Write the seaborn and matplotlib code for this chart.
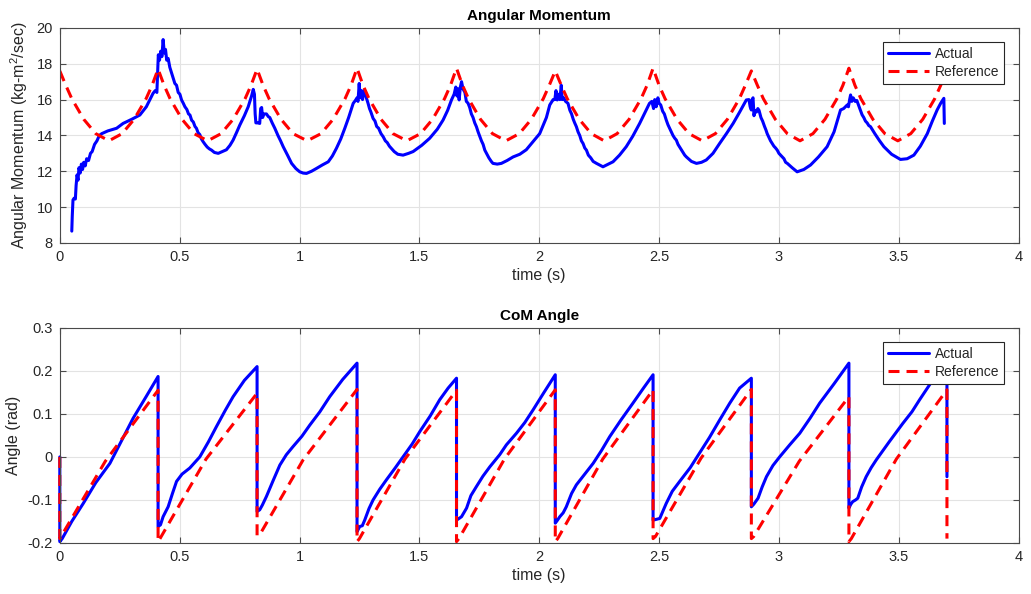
import numpy as np
import pandas as pd
import matplotlib
matplotlib.use("Agg")
import matplotlib.pyplot as plt
import seaborn as sns

# ---------------- data ----------------
# Angular momentum, reference (dashed red)
h_ref_t = [0.000, 0.025, 0.050, 0.100, 0.150, 0.205, 0.260, 0.310, 0.360, 0.385, 0.410,
           0.435, 0.460, 0.510, 0.560, 0.617, 0.673, 0.723, 0.773, 0.798, 0.823,
           0.848, 0.873, 0.923, 0.973, 1.032, 1.090, 1.140, 1.190, 1.215, 1.240,
           1.265, 1.290, 1.340, 1.390, 1.448, 1.505, 1.555, 1.605, 1.630, 1.655,
           1.680, 1.705, 1.755, 1.805, 1.861, 1.917, 1.967, 2.017, 2.042, 2.067,
           2.092, 2.117, 2.167, 2.217, 2.271, 2.325, 2.375, 2.425, 2.450, 2.475,
           2.500, 2.525, 2.575, 2.625, 2.680, 2.735, 2.785, 2.835, 2.860, 2.885,
           2.910, 2.935, 2.985, 3.035, 3.088, 3.142, 3.192, 3.242, 3.267, 3.292,
           3.317, 3.342, 3.392, 3.442, 3.496, 3.550, 3.600, 3.650, 3.675, 3.700]
h_ref_v = [17.6, 16.8, 16.05, 14.9, 14.1, 13.7, 14.1, 14.9, 16.05, 16.8, 17.7,
           16.8, 16.05, 14.9, 14.1, 13.7, 14.1, 14.9, 16.05, 16.8, 17.7,
           16.8, 16.05, 14.9, 14.1, 13.7, 14.1, 14.9, 16.05, 16.8, 17.75,
           16.8, 16.05, 14.9, 14.1, 13.7, 14.1, 14.9, 16.05, 16.8, 17.75,
           16.8, 16.05, 14.9, 14.1, 13.7, 14.1, 14.9, 16.05, 16.8, 17.6,
           16.8, 16.05, 14.9, 14.1, 13.7, 14.1, 14.9, 16.05, 16.8, 17.75,
           16.8, 16.05, 14.9, 14.1, 13.7, 14.1, 14.9, 16.05, 16.8, 17.6,
           16.8, 16.05, 14.9, 14.1, 13.7, 14.1, 14.9, 16.05, 16.8, 17.75,
           16.8, 16.05, 14.9, 14.1, 13.7, 14.1, 14.9, 16.05, 16.8, 17.6]

# Angular momentum, actual (solid blue)
h_act_t = [0.050, 0.052, 0.055, 0.060, 0.065, 0.068, 0.072, 0.076, 0.080, 0.085, 0.090, 0.095,
           0.100, 0.106, 0.112, 0.120, 0.128, 0.135, 0.145, 0.155, 0.165, 0.175, 0.200, 0.237,
           0.264, 0.300, 0.334, 0.361, 0.389, 0.398, 0.405, 0.408, 0.411, 0.416, 0.421, 0.426,
           0.431, 0.436, 0.441, 0.446, 0.452, 0.459, 0.466, 0.473, 0.480, 0.487, 0.494, 0.501,
           0.508, 0.515, 0.522, 0.530, 0.537, 0.543, 0.550, 0.557, 0.564, 0.570, 0.577, 0.584,
           0.591, 0.598, 0.606, 0.615, 0.624, 0.633, 0.645, 0.661, 0.678, 0.695, 0.710, 0.723,
           0.737, 0.751, 0.770, 0.786, 0.800, 0.807, 0.812, 0.815, 0.818, 0.826, 0.834, 0.838,
           0.842, 0.846, 0.852, 0.862, 0.870, 0.876, 0.886, 0.897, 0.910, 0.921, 0.932, 0.950,
           0.967, 0.985, 1.001, 1.015, 1.029, 1.050, 1.071, 1.095, 1.120, 1.137, 1.154, 1.172,
           1.189, 1.205, 1.224, 1.233, 1.240, 1.244, 1.249, 1.253, 1.258, 1.263, 1.268, 1.272,
           1.279, 1.286, 1.292, 1.298, 1.307, 1.315, 1.322, 1.330, 1.340, 1.349, 1.358, 1.366,
           1.375, 1.383, 1.395, 1.410, 1.432, 1.455, 1.474, 1.510, 1.543, 1.575, 1.599, 1.618,
           1.634, 1.645, 1.652, 1.657, 1.662, 1.666, 1.671, 1.676, 1.682, 1.690, 1.696, 1.703,
           1.710, 1.717, 1.724, 1.731, 1.738, 1.745, 1.752, 1.759, 1.766, 1.773, 1.780, 1.790,
           1.800, 1.807, 1.825, 1.842, 1.866, 1.891, 1.919, 1.946, 2.002, 2.030, 2.044, 2.058,
           2.065, 2.070, 2.075, 2.080, 2.086, 2.092, 2.096, 2.102, 2.110, 2.120, 2.128, 2.135,
           2.142, 2.148, 2.155, 2.162, 2.169, 2.176, 2.183, 2.190, 2.197, 2.205, 2.215, 2.225,
           2.239, 2.266, 2.308, 2.335, 2.363, 2.390, 2.419, 2.440, 2.460, 2.470, 2.477, 2.482,
           2.488, 2.495, 2.500, 2.507, 2.515, 2.522, 2.530, 2.537, 2.544, 2.551, 2.558, 2.565,
           2.572, 2.579, 2.586, 2.593, 2.600, 2.607, 2.614, 2.635, 2.656, 2.677, 2.697, 2.725,
           2.753, 2.781, 2.809, 2.836, 2.864, 2.875, 2.880, 2.885, 2.888, 2.892, 2.896, 2.900,
           2.906, 2.912, 2.917, 2.925, 2.932, 2.940, 2.946, 2.951, 2.958, 2.965, 2.972, 2.979,
           2.986, 2.993, 3.000, 3.007, 3.014, 3.021, 3.028, 3.035, 3.055, 3.076, 3.104, 3.132,
           3.165, 3.201, 3.230, 3.257, 3.270, 3.285, 3.290, 3.295, 3.299, 3.304, 3.310, 3.318,
           3.325, 3.332, 3.340, 3.347, 3.354, 3.361, 3.368, 3.375, 3.382, 3.400, 3.420, 3.438,
           3.470, 3.507, 3.535, 3.563, 3.590, 3.619, 3.640, 3.660, 3.675, 3.688, 3.690]
h_act_v = [8.66, 9.5, 10.4, 10.5, 10.45, 11.2, 11.8, 11.5, 12.2, 11.9, 12.4, 12.1,
           12.5, 12.3, 12.7, 12.6, 13.0, 13.1, 13.5, 13.7, 14.0, 14.1, 14.25, 14.4,
           14.67, 14.9, 15.14, 15.6, 16.35, 16.5, 16.4, 17.5, 18.5, 18.2, 18.7, 18.4,
           19.35, 18.6, 18.8, 18.2, 18.3, 17.8, 17.5, 17.2, 16.9, 16.8, 16.4, 16.3,
           15.98, 15.8, 15.6, 15.45, 15.2, 15.14, 14.85, 14.75, 14.5, 14.4, 14.15, 14.05,
           13.8, 13.65, 13.5, 13.35, 13.25, 13.18, 13.05, 13.0, 13.1, 13.2, 13.45, 13.74,
           14.15, 14.58, 15.1, 15.6, 16.2, 16.57, 16.3, 15.2, 14.7, 14.7, 14.67, 15.5,
           15.56, 15.0, 15.2, 15.2, 15.05, 15.0, 14.7, 14.4, 14.0, 13.7, 13.37, 12.9,
           12.44, 12.15, 11.97, 11.9, 11.88, 12.0, 12.16, 12.35, 12.53, 12.85, 13.28, 13.8,
           14.4, 15.0, 15.79, 15.95, 16.1, 15.9, 16.9, 16.1, 16.5, 16.0, 16.5, 16.4,
           16.1, 15.79, 15.5, 15.3, 14.95, 14.8, 14.5, 14.4, 14.1, 13.93, 13.7, 13.6,
           13.4, 13.28, 13.1, 12.95, 12.9, 13.0, 13.1, 13.45, 13.84, 14.35, 14.86, 15.4,
           15.98, 16.3, 16.7, 16.2, 16.6, 15.98, 16.7, 17.0, 16.6, 16.4, 15.9, 15.8,
           15.56, 15.2, 15.0, 14.7, 14.49, 14.2, 13.95, 13.7, 13.5, 13.18, 13.0, 12.75,
           12.55, 12.44, 12.4, 12.44, 12.6, 12.8, 12.95, 13.2, 14.1, 15.0, 15.7, 16.0,
           16.0, 16.5, 15.98, 16.3, 16.0, 16.8, 16.0, 16.1, 15.9, 15.79, 15.4, 15.2,
           14.9, 14.7, 14.49, 14.2, 14.0, 13.7, 13.55, 13.3, 13.18, 12.9, 12.75, 12.55,
           12.44, 12.25, 12.53, 12.9, 13.37, 13.95, 14.67, 15.25, 15.79, 15.9, 15.5, 16.0,
           15.6, 16.1, 15.8, 15.7, 15.35, 15.2, 14.86, 14.6, 14.4, 14.2, 14.0, 13.85,
           13.74, 13.5, 13.35, 13.2, 13.05, 12.9, 12.8, 12.55, 12.44, 12.5, 12.63, 13.0,
           13.56, 14.1, 14.67, 15.3, 15.98, 16.0, 15.6, 15.42, 16.0, 16.1, 15.1, 15.4,
           15.3, 15.5, 15.4, 15.0, 14.8, 14.5, 14.3, 14.1, 13.9, 13.7, 13.55, 13.4,
           13.3, 13.18, 13.0, 12.9, 12.8, 12.7, 12.5, 12.44, 12.2, 11.97, 12.1, 12.35,
           12.8, 13.37, 14.2, 15.42, 15.5, 15.7, 15.6, 16.0, 16.26, 15.9, 16.1, 15.9,
           15.95, 15.7, 15.42, 15.15, 15.0, 14.8, 14.7, 14.55, 14.49, 14.1, 13.7, 13.37,
           12.95, 12.66, 12.7, 12.9, 13.4, 14.1, 14.8, 15.42, 15.8, 16.07, 14.67]

# CoM angle, actual (solid blue)
a_act_t = [0.000, 0.000, 0.010, 0.050, 0.098, 0.150, 0.209, 0.260, 0.306, 0.360, 0.410,
           0.410, 0.420, 0.431, 0.452, 0.470, 0.487, 0.510, 0.542, 0.584, 0.620, 0.653,
           0.690, 0.723, 0.770, 0.823, 0.823, 0.834, 0.845, 0.862, 0.890, 0.918, 0.945,
           0.973, 1.010, 1.043, 1.085, 1.126, 1.180, 1.240, 1.240, 1.251, 1.262, 1.272,
           1.290, 1.307, 1.335, 1.363, 1.400, 1.432, 1.470, 1.502, 1.545, 1.585, 1.620,
           1.655, 1.655, 1.666, 1.676, 1.697, 1.715, 1.738, 1.765, 1.794, 1.835, 1.863,
           1.905, 1.940, 1.974, 2.020, 2.067, 2.067, 2.075, 2.086, 2.100, 2.113, 2.135,
           2.155, 2.190, 2.225, 2.260, 2.294, 2.340, 2.391, 2.435, 2.475, 2.475, 2.490,
           2.503, 2.530, 2.555, 2.586, 2.630, 2.669, 2.710, 2.753, 2.795, 2.836, 2.885,
           2.885, 2.895, 2.913, 2.930, 2.948, 2.975, 3.003, 3.045, 3.087, 3.130, 3.170,
           3.230, 3.292, 3.292, 3.300, 3.308, 3.320, 3.329, 3.345, 3.364, 3.385, 3.406,
           3.460, 3.517, 3.555, 3.587, 3.642, 3.701, 3.701]
a_act_v = [0.0, -0.197, -0.19, -0.15, -0.108, -0.06, -0.015, 0.04, 0.09, 0.14, 0.187,
           -0.162, -0.158, -0.139, -0.116, -0.085, -0.057, -0.04, -0.026, 0.0, 0.035, 0.07,
           0.108, 0.14, 0.178, 0.21, -0.127, -0.123, -0.112, -0.092, -0.055, -0.019, 0.005,
           0.024, 0.048, 0.074, 0.105, 0.14, 0.18, 0.218, -0.174, -0.162, -0.16, -0.147,
           -0.12, -0.1, -0.075, -0.053, -0.025, 0.0, 0.03, 0.059, 0.095, 0.133, 0.16,
           0.183, -0.147, -0.143, -0.139, -0.119, -0.09, -0.069, -0.045, -0.023, 0.005, 0.028,
           0.055, 0.08, 0.109, 0.15, 0.191, -0.154, -0.148, -0.139, -0.13, -0.116, -0.085,
           -0.065, -0.04, -0.015, 0.015, 0.047, 0.085, 0.125, 0.16, 0.191, -0.147, -0.145,
           -0.143, -0.108, -0.08, -0.057, -0.025, 0.009, 0.045, 0.086, 0.125, 0.16, 0.183,
           -0.116, -0.11, -0.096, -0.07, -0.046, -0.02, 0.0, 0.028, 0.055, 0.09, 0.125,
           0.17, 0.218, -0.119, -0.11, -0.104, -0.1, -0.096, -0.07, -0.046, -0.025, -0.007,
           0.035, 0.078, 0.105, 0.133, 0.179, 0.225, -0.046]

# CoM angle, reference (dashed red)
a_ref_t = [0.000, 0.000, 0.190, 0.410, 0.410, 0.418, 0.610, 0.823, 0.823, 0.834, 1.015, 1.240,
           1.240, 1.250, 1.440, 1.655, 1.655, 1.665, 1.855, 2.067, 2.067, 2.077, 2.265, 2.475,
           2.475, 2.485, 2.675, 2.885, 2.885, 2.895, 3.085, 3.292, 3.292, 3.302, 3.490, 3.701,
           3.701]
a_ref_v = [0.0, -0.19, -0.01, 0.155, -0.197, -0.19, -0.005, 0.148, -0.183, -0.181, -0.007, 0.157,
           -0.197, -0.19, -0.005, 0.155, -0.197, -0.19, -0.005, 0.156, -0.197, -0.19, -0.005, 0.156,
           -0.19, -0.185, -0.003, 0.157, -0.19, -0.185, -0.01, 0.14, -0.197, -0.19, -0.005, 0.156,
           -0.19]

series_labels = ["Actual", "Reference"]
x_ticks = [0, 0.5, 1, 1.5, 2, 2.5, 3, 3.5, 4]
x_ticklabels = ["0", "0.5", "1", "1.5", "2", "2.5", "3", "3.5", "4"]
h_ticks = [8, 10, 12, 14, 16, 18, 20]
a_ticks = [-0.2, -0.1, 0, 0.1, 0.2, 0.3]
a_ticklabels = ["-0.2", "-0.1", "0", "0.1", "0.2", "0.3"]

# ---------------- style ----------------
sns.set_theme(style="white")
plt.rcParams["font.family"] = ["Liberation Sans", "DejaVu Sans"]
plt.rcParams["mathtext.fontset"] = "custom"
plt.rcParams["mathtext.rm"] = "Liberation Sans"
plt.rcParams["mathtext.it"] = "Liberation Sans"
plt.rcParams["lines.dashed_pattern"] = [3.6, 2.3]
plt.rcParams["lines.scale_dashes"] = True

TXT = "#262626"
BLUE = "#0000ff"
RED = "#ff0000"

fig = plt.figure(figsize=(10.31, 5.94), dpi=100)
ax1 = fig.add_axes([0.058, 0.591, 0.930, 0.362])
ax2 = fig.add_axes([0.058, 0.086, 0.930, 0.362])


def style_axes(ax):
    ax.set_facecolor("white")
    ax.grid(True, color="#e3e3e3", linewidth=0.8)
    ax.set_axisbelow(True)
    for s in ax.spines.values():
        s.set_color("#4a4a4a")
        s.set_linewidth(0.8)
        s.set_visible(True)
    ax.tick_params(direction="in", length=4, width=0.8, color="#4a4a4a",
                   top=True, right=True, bottom=True, left=True,
                   labelsize=10.5, labelcolor=TXT, pad=5)


df_h_act = pd.DataFrame({"t": h_act_t, "v": h_act_v})
df_h_ref = pd.DataFrame({"t": h_ref_t, "v": h_ref_v})
df_a_act = pd.DataFrame({"t": a_act_t, "v": a_act_v})
df_a_ref = pd.DataFrame({"t": a_ref_t, "v": a_ref_v})

# top panel
sns.lineplot(data=df_h_act, x="t", y="v", ax=ax1, color=BLUE, linewidth=2.2,
             sort=False, estimator=None, label=series_labels[0])
sns.lineplot(data=df_h_ref, x="t", y="v", ax=ax1, color=RED, linewidth=2.2,
             linestyle="--", sort=False, estimator=None, label=series_labels[1])
ax1.set_xlim(0, 4)
ax1.set_ylim(8, 20)
ax1.set_xticks(x_ticks)
ax1.set_xticklabels(x_ticklabels)
ax1.set_yticks(h_ticks)
ax1.set_xlabel("time (s)", fontsize=11.5, color=TXT, labelpad=3)
ax1.set_ylabel(r"Angular Momentum (kg-m$^2$/sec)", fontsize=11.5, color=TXT, labelpad=5)
ax1.set_title("Angular Momentum", fontsize=11, fontweight="bold", color="black", pad=6)
style_axes(ax1)

# bottom panel
sns.lineplot(data=df_a_act, x="t", y="v", ax=ax2, color=BLUE, linewidth=2.2,
             sort=False, estimator=None, label=series_labels[0], clip_on=False)
sns.lineplot(data=df_a_ref, x="t", y="v", ax=ax2, color=RED, linewidth=2.2,
             linestyle="--", sort=False, estimator=None, label=series_labels[1], clip_on=False)
ax2.set_xlim(0, 4)
ax2.set_ylim(-0.2, 0.3)
ax2.set_xticks(x_ticks)
ax2.set_xticklabels(x_ticklabels)
ax2.set_yticks(a_ticks)
ax2.set_yticklabels(a_ticklabels)
ax2.set_xlabel("time (s)", fontsize=11.5, color=TXT, labelpad=3)
ax2.set_ylabel("Angle (rad)", fontsize=11.5, color=TXT, labelpad=5)
ax2.set_title("CoM Angle", fontsize=11, fontweight="bold", color="black", pad=6)
style_axes(ax2)

for ax in (ax1, ax2):
    leg = ax.legend(loc="upper right", bbox_to_anchor=(0.985, 0.935), fontsize=10,
                    frameon=True, fancybox=False, shadow=False, framealpha=1,
                    edgecolor="#262626", handlelength=3.0, handletextpad=0.4,
                    borderpad=0.35, labelspacing=0.3, borderaxespad=0)
    leg.get_frame().set_linewidth(0.8)
    for t in leg.get_texts():
        t.set_color(TXT)

fig.savefig("out.png", dpi=100, facecolor="white")
